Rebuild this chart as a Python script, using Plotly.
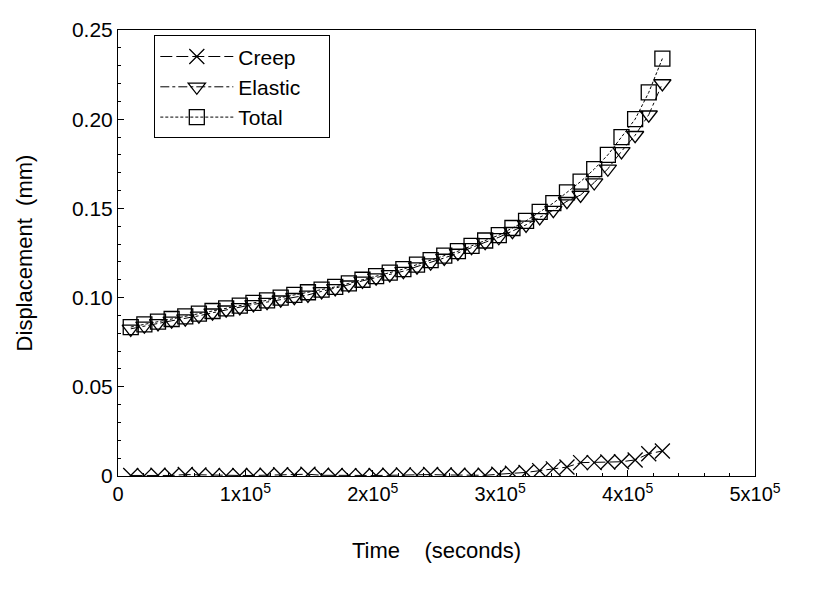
import plotly.graph_objects as go

# time in seconds
time_s = [10000, 20700, 31400, 42100, 52800, 63500, 74200, 84900, 95600, 106300,
          117000, 127700, 138400, 149100, 159800, 170500, 181200, 191900, 202600, 213300,
          224000, 234700, 245400, 256100, 266800, 277500, 288200, 298900, 309600, 320300,
          331000, 341700, 352400, 363100, 373800, 384500, 395200, 405900, 416600, 427300]

total_mm = [0.0835, 0.0850, 0.0865, 0.0880, 0.0895, 0.0910, 0.0925, 0.0940, 0.0955, 0.0970,
            0.0985, 0.1000, 0.1015, 0.1030, 0.1045, 0.1060, 0.1080, 0.1100, 0.1120, 0.1140,
            0.1160, 0.1185, 0.1210, 0.1235, 0.1260, 0.1290, 0.1320, 0.1350, 0.1390, 0.1430,
            0.1480, 0.1530, 0.1590, 0.1650, 0.1720, 0.1800, 0.1900, 0.2000, 0.2150, 0.2340]

creep_mm = [0.0003, 0.0002, 0.0004, 0.0003, 0.0008, 0.0006, 0.0003, 0.0002, 0.0003, 0.0003,
            0.0004, 0.0007, 0.0006, 0.0010, 0.0004, 0.0003, 0.0002, 0.0001, 0.0003, 0.0004,
            0.0006, 0.0005, 0.0008, 0.0006, 0.0004, 0.0003, 0.0004, 0.0010, 0.0015, 0.0020,
            0.0030, 0.0040, 0.0050, 0.0075, 0.0075, 0.0078, 0.0080, 0.0090, 0.0125, 0.0140]

elastic_mm = [0.0825, 0.0842, 0.0855, 0.0870, 0.0882, 0.0898, 0.0915, 0.0932, 0.0945, 0.0962,
              0.0975, 0.0988, 0.1002, 0.1015, 0.1035, 0.1052, 0.1072, 0.1094, 0.1112, 0.1130,
              0.1148, 0.1174, 0.1196, 0.1222, 0.1250, 0.1282, 0.1310, 0.1338, 0.1372, 0.1408,
              0.1450, 0.1490, 0.1540, 0.1575, 0.1645, 0.1722, 0.1820, 0.1910, 0.2025, 0.2200]

series_names = ["Creep", "Elastic", "Total"]

y_ticks = [0, 0.05, 0.10, 0.15, 0.20, 0.25]
y_ticklabels = ["0", "0.05", "0.10", "0.15", "0.20", "0.25"]
x_ticks = [0, 1e5, 2e5, 3e5, 4e5, 5e5]
x_ticklabels = ["0", "1x10<sup>5</sup>", "2x10<sup>5</sup>", "3x10<sup>5</sup>",
                "4x10<sup>5</sup>", "5x10<sup>5</sup>"]

FONT = "Liberation Sans, Arial, sans-serif"
PAD = "\u00a0" * 4  # invisible right padding inside the legend box

fig = go.Figure()
fig.add_trace(go.Scatter(
    x=time_s, y=creep_mm, name=series_names[0] + PAD, mode="lines+markers",
    line=dict(color="black", width=1, dash="12px,4px"),
    marker=dict(symbol="x-thin-open", size=15, color="black",
                line=dict(color="black", width=1.3)),
    cliponaxis=True))
fig.add_trace(go.Scatter(
    x=time_s, y=elastic_mm, name=series_names[1] + PAD, mode="lines+markers",
    line=dict(color="black", width=1, dash="dashdot"),
    marker=dict(symbol="triangle-down-open", size=15, color="black",
                line=dict(color="black", width=1.3))))
fig.add_trace(go.Scatter(
    x=time_s, y=total_mm, name=series_names[2] + PAD, mode="lines+markers",
    line=dict(color="black", width=1, dash="3px,2px"),
    marker=dict(symbol="square-open", size=15, color="black",
                line=dict(color="black", width=1.3))))

fig.update_layout(
    width=815, height=594,
    margin=dict(l=110, r=68, t=10, b=126),
    paper_bgcolor="white", plot_bgcolor="white",
    font=dict(family=FONT, size=21, color="black"),
    legend=dict(x=0.057, y=0.988, xanchor="left", yanchor="top",
                bgcolor="white", bordercolor="black", borderwidth=1,
                font=dict(size=21), tracegroupgap=0, itemwidth=73),
    showlegend=True,
)
fig.update_xaxes(
    range=[0, 5e5], tickvals=x_ticks, ticktext=x_ticklabels,
    showgrid=False, zeroline=False, showline=True, linecolor="black", linewidth=1,
    mirror=True, ticks="inside", ticklen=6, tickcolor="black",
    minor=dict(dtick=2e4, ticks="inside", ticklen=3, tickcolor="black"),
    title=dict(text="Time    (seconds)", font=dict(size=22), standoff=38),
    tickfont=dict(size=20), ticklabeloverflow="allow",
)
fig.update_yaxes(
    range=[0, 0.25], tickvals=y_ticks, ticktext=y_ticklabels,
    showgrid=False, zeroline=False, showline=True, linecolor="black", linewidth=1,
    mirror=True, ticks="inside", ticklen=6, tickcolor="black",
    minor=dict(dtick=0.01, ticks="inside", ticklen=3, tickcolor="black"),
    title=dict(text="Displacement  (mm)", font=dict(size=22), standoff=33),
    tickfont=dict(size=21), ticklabeloverflow="allow",
)

fig.write_html("out.html")
